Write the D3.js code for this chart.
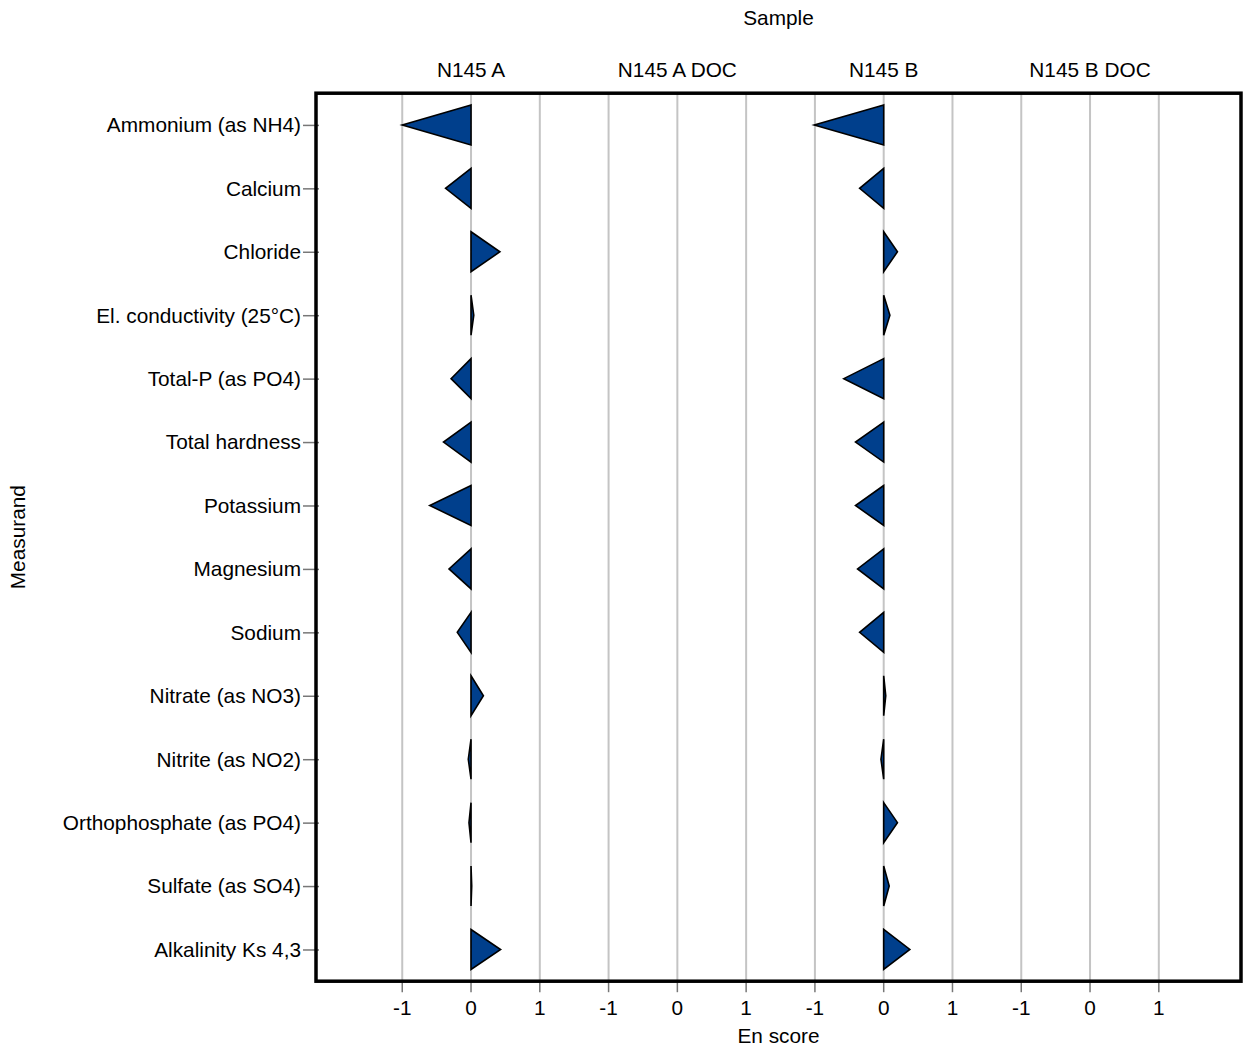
<!DOCTYPE html>
<html>
<head>
<meta charset="utf-8">
<script src="https://cdn.jsdelivr.net/npm/d3@7"></script>
<style>
  html, body { margin: 0; padding: 0; background: #fff; }
  svg { display: block; font-family: "Liberation Sans", Arial, sans-serif; }
</style>
</head>
<body>
<svg id="chart" width="1244" height="1050"></svg>
<script>
const measurands = [
  "Ammonium (as NH4)", "Calcium", "Chloride", "El. conductivity (25°C)",
  "Total-P (as PO4)", "Total hardness", "Potassium", "Magnesium", "Sodium",
  "Nitrate (as NO3)", "Nitrite (as NO2)", "Orthophosphate (as PO4)",
  "Sulfate (as SO4)", "Alkalinity Ks 4,3"
];
const samples = ["N145 A", "N145 A DOC", "N145 B", "N145 B DOC"];
const scoresA    = [-1.0, -0.37, 0.42, 0.04, -0.29, -0.4, -0.6, -0.32, -0.2, 0.18, -0.04, -0.03, 0.01, 0.43];
const scoresADoc = [null, null, null, null, null, null, null, null, null, null, null, null, null, null];
const scoresB    = [-1.01, -0.35, 0.2, 0.09, -0.58, -0.41, -0.41, -0.38, -0.35, 0.03, -0.04, 0.2, 0.08, 0.38];
const scoresBDoc = [null, null, null, null, null, null, null, null, null, null, null, null, null, null];
const xTicks = [-1, 0, 1];
const facetOffset = [0, 3, 6, 9];

const seriesBySample = [scoresA, scoresADoc, scoresB, scoresBDoc];

const svg = d3.select("#chart");
const pLeft = 316, pRight = 1241, pTop = 93.2, pBottom = 981.2;
const fs = 20.8;

const x = d3.scaleLinear().domain([-2.254, 11.195]).range([pLeft, pRight]);
const y = d3.scalePoint().domain(measurands).range([pTop, pBottom]).padding(0.5);

// gridlines
const gridVals = [];
samples.forEach((s, i) => xTicks.forEach(t => gridVals.push({s, t, v: t + facetOffset[i]})));
svg.append("g").selectAll("line").data(gridVals).join("line")
  .attr("x1", d => x(d.v)).attr("x2", d => x(d.v))
  .attr("y1", pTop).attr("y2", pBottom)
  .attr("stroke", "#c4c4c4").attr("stroke-width", 2);

// triangles
const marks = [];
samples.forEach((s, i) => {
  seriesBySample[i].forEach((v, j) => {
    if (v !== null) marks.push({sample: s, m: measurands[j], v, off: facetOffset[i]});
  });
});
const half = 20;
svg.append("g").selectAll("path").data(marks).join("path")
  .attr("d", d => {
    const x0 = x(d.off), x1 = x(d.v + d.off), cy = y(d.m);
    return `M${x0},${cy - half}L${x1},${cy}L${x0},${cy + half}Z`;
  })
  .attr("fill", "#003f8c")
  .attr("stroke", "#000")
  .attr("stroke-width", 1.6)
  .attr("stroke-linejoin", "miter");

// y axis
const yAxis = d3.axisLeft(y).tickSize(16).tickPadding(2);
const gy = svg.append("g").attr("transform", `translate(${pLeft + 3},0)`).call(yAxis);
gy.select(".domain").remove();
gy.selectAll(".tick line").attr("stroke", "#777").attr("stroke-width", 1.5);
gy.selectAll(".tick text").attr("font-size", fs).attr("fill", "#000")
  .attr("font-family", "'Liberation Sans', Arial, sans-serif").attr("dy", "0.33em");

// x axis ticks (per facet)
const gx = svg.append("g");
gx.selectAll("line").data(gridVals).join("line")
  .attr("x1", d => x(d.v)).attr("x2", d => x(d.v))
  .attr("y1", pBottom).attr("y2", pBottom + 11)
  .attr("stroke", "#777").attr("stroke-width", 1.5);
gx.selectAll("text").data(gridVals).join("text")
  .attr("x", d => x(d.v)).attr("y", 1015)
  .attr("text-anchor", "middle").attr("font-size", fs).attr("fill", "#000")
  .text(d => d.t);

// facet headers
svg.append("g").selectAll("text").data(samples).join("text")
  .attr("x", (d, i) => x(facetOffset[i])).attr("y", 77)
  .attr("text-anchor", "middle").attr("font-size", fs).attr("fill", "#000")
  .text(d => d);

// frame
svg.append("rect")
  .attr("x", pLeft).attr("y", pTop).attr("width", pRight - pLeft).attr("height", pBottom - pTop)
  .attr("fill", "none").attr("stroke", "#000").attr("stroke-width", 3.5);

// titles
const cx = (pLeft + pRight) / 2;
svg.append("text").attr("x", cx).attr("y", 25).attr("text-anchor", "middle")
  .attr("font-size", fs).text("Sample");
svg.append("text").attr("x", cx).attr("y", 1043).attr("text-anchor", "middle")
  .attr("font-size", fs).text("En score");
svg.append("text").attr("transform", `translate(25,${(pTop + pBottom) / 2}) rotate(-90)`)
  .attr("text-anchor", "middle").attr("font-size", fs).text("Measurand");
</script>
</body>
</html>
